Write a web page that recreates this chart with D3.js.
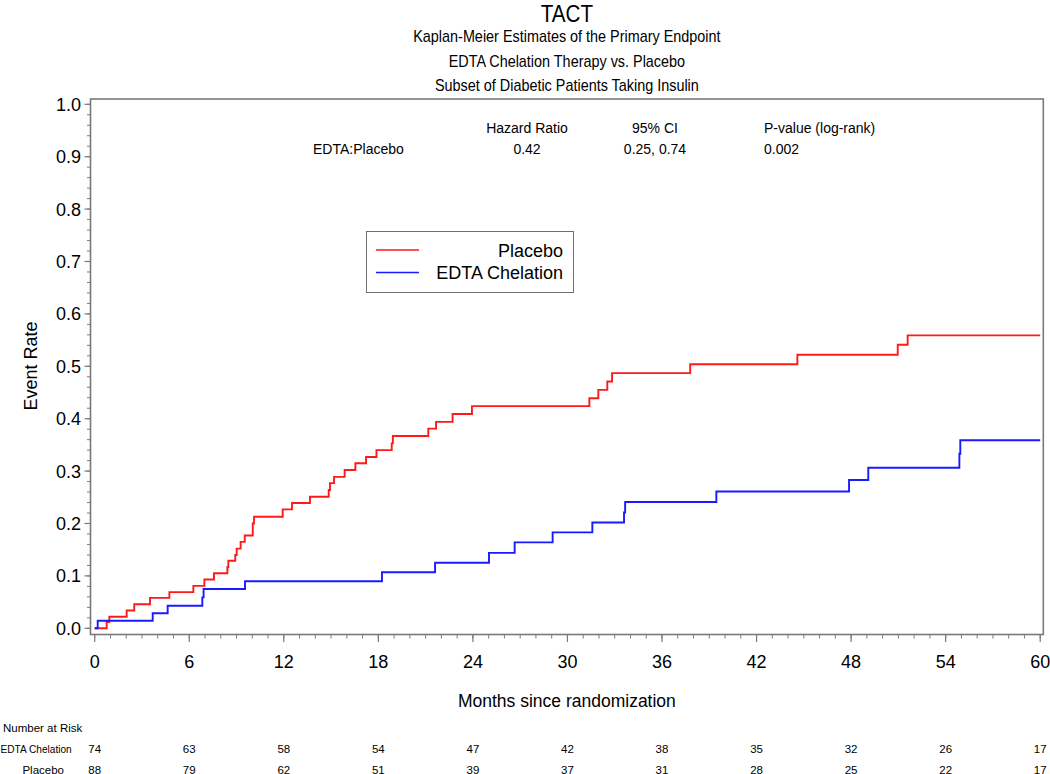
<!DOCTYPE html>
<html>
<head>
<meta charset="utf-8">
<script src="https://cdn.jsdelivr.net/npm/d3@7/dist/d3.min.js"></script>
<style>
  html, body { margin: 0; padding: 0; background: #fff; }
  svg { display: block; font-family: "Liberation Sans", Arial, sans-serif; }
</style>
</head>
<body>
<svg id="chart" width="1050" height="774"></svg>
<script>
// ---- Data ----
const titleText = "TACT";
const subtitles = [
  "Kaplan-Meier Estimates of the Primary Endpoint",
  "EDTA Chelation Therapy vs. Placebo",
  "Subset of Diabetic Patients Taking Insulin"
];
const seriesNames = ["Placebo", "EDTA Chelation"];
const seriesColors = ["#ff1a1a", "#1a1aff"];

// Placebo step curve: [month, event rate]
const placeboSteps = [
  [0, 0], [0.76, 0.012], [0.93, 0.022], [2.03, 0.034], [2.51, 0.046],
  [3.51, 0.058], [4.74, 0.069], [6.26, 0.081], [6.96, 0.093], [7.57, 0.105],
  [8.42, 0.117], [8.48, 0.129], [8.92, 0.140], [9.01, 0.152], [9.26, 0.165],
  [9.52, 0.177], [10.03, 0.200], [10.11, 0.213], [11.93, 0.227], [12.52, 0.239],
  [13.66, 0.251], [14.85, 0.264], [14.93, 0.277], [15.19, 0.289], [15.86, 0.302],
  [16.54, 0.315], [17.22, 0.327], [17.88, 0.340], [18.85, 0.353], [18.92, 0.367],
  [21.17, 0.381], [21.66, 0.394], [22.71, 0.409], [23.94, 0.424], [31.39, 0.439],
  [31.96, 0.455], [32.53, 0.471], [32.83, 0.487], [37.79, 0.504], [44.59, 0.522],
  [50.96, 0.541], [51.59, 0.559], [60, 0.559]
];
// EDTA Chelation step curve: [month, event rate]
const edtaSteps = [
  [0, 0], [0.19, 0.0145], [3.68, 0.0286], [4.63, 0.043], [6.83, 0.059],
  [6.91, 0.075], [9.54, 0.0897], [18.23, 0.107], [21.6, 0.125], [25.02, 0.144],
  [26.65, 0.164], [29.06, 0.183], [31.58, 0.202], [33.59, 0.221], [33.66, 0.241],
  [39.45, 0.261], [47.87, 0.283], [49.09, 0.3065], [54.87, 0.333], [54.93, 0.359],
  [60, 0.359]
];

const xTicks = [0, 6, 12, 18, 24, 30, 36, 42, 48, 54, 60];
const yTicks = [0, 0.1, 0.2, 0.3, 0.4, 0.5, 0.6, 0.7, 0.8, 0.9, 1.0];

const riskTimes = [0, 6, 12, 18, 24, 30, 36, 42, 48, 54, 60];
const riskEdta = [74, 63, 58, 54, 47, 42, 38, 35, 32, 26, 17];
const riskPlacebo = [88, 79, 62, 51, 39, 37, 31, 28, 25, 22, 17];

const hrHeaders = ["Hazard Ratio", "95% CI", "P-value (log-rank)"];
const hrRow = ["EDTA:Placebo", "0.42", "0.25, 0.74", "0.002"];

// ---- Layout ----
const svg = d3.select("#chart");
const frame = { left: 90.5, right: 1043.3, top: 99, bottom: 634.5 };
const x = d3.scaleLinear().domain([0, 60]).range([94.7, 1040.2]);
const y = d3.scaleLinear().domain([0, 1]).range([628.3, 104.3]);
const frameColor = "#7a7a7a";

// Titles (slightly condensed like the original)
const cx = (frame.left + frame.right) / 2;
svg.append("text").attr("transform", `translate(${cx},22) scale(0.86,1)`)
  .attr("text-anchor", "middle").attr("font-size", 24).text(titleText);
subtitles.forEach((s, i) => {
  svg.append("text").attr("transform", `translate(${cx},${42 + i * 24.5}) scale(0.9,1)`)
    .attr("text-anchor", "middle").attr("font-size", 16).text(s);
});

// Frame
svg.append("rect").attr("x", frame.left).attr("y", frame.top)
  .attr("width", frame.right - frame.left).attr("height", frame.bottom - frame.top)
  .attr("fill", "none").attr("stroke", frameColor).attr("stroke-width", 1.6);

// Y axis
const yMinor = d3.range(0, 1.0001, 0.02);
const yAxisG = svg.append("g").attr("transform", `translate(${frame.left},0)`);
yAxisG.selectAll("line.minor").data(yMinor).join("line")
  .attr("x1", -3.5).attr("x2", 0).attr("y1", d => y(d)).attr("y2", d => y(d))
  .attr("stroke", frameColor).attr("stroke-width", 1);
yAxisG.selectAll("line.major").data(yTicks).join("line")
  .attr("x1", -6).attr("x2", 0).attr("y1", d => y(d)).attr("y2", d => y(d))
  .attr("stroke", frameColor).attr("stroke-width", 1.2);
yAxisG.selectAll("text").data(yTicks).join("text")
  .attr("x", -9.5).attr("y", d => y(d) + 6.5).attr("text-anchor", "end")
  .attr("font-size", 18).text(d3.format(".1f"));

// X axis
const xMinor = d3.range(0, 60.001, 1);
const xAxisG = svg.append("g").attr("transform", `translate(0,${frame.bottom})`);
xAxisG.selectAll("line.minor").data(xMinor).join("line")
  .attr("x1", d => x(d)).attr("x2", d => x(d)).attr("y1", 0).attr("y2", 4)
  .attr("stroke", frameColor).attr("stroke-width", 1);
xAxisG.selectAll("line.major").data(xTicks).join("line")
  .attr("x1", d => x(d)).attr("x2", d => x(d)).attr("y1", 0).attr("y2", 7.5)
  .attr("stroke", frameColor).attr("stroke-width", 1.2);
xAxisG.selectAll("text").data(xTicks).join("text")
  .attr("x", d => x(d)).attr("y", 33).attr("text-anchor", "middle")
  .attr("font-size", 18).text(d => d);

// Axis labels
svg.append("text").attr("transform", `translate(37,366) rotate(-90)`)
  .attr("text-anchor", "middle").attr("font-size", 18).text("Event Rate");
svg.append("text").attr("x", cx).attr("y", 707).attr("text-anchor", "middle")
  .attr("font-size", 17.5).text("Months since randomization");

// Curves
const line = d3.line().x(d => x(d[0])).y(d => y(d[1])).curve(d3.curveStepAfter);
[[placeboSteps, seriesColors[0]], [edtaSteps, seriesColors[1]]].forEach(([data, col]) => {
  svg.append("path").datum(data).attr("d", line)
    .attr("fill", "none").attr("stroke", col).attr("stroke-width", 1.9);
});

// Hazard ratio table
const hrG = svg.append("g").attr("font-size", 14);
hrG.append("text").attr("x", 527).attr("y", 133).attr("text-anchor", "middle").text(hrHeaders[0]);
hrG.append("text").attr("x", 655).attr("y", 133).attr("text-anchor", "middle").text(hrHeaders[1]);
hrG.append("text").attr("x", 764).attr("y", 133).attr("text-anchor", "start").text(hrHeaders[2]);
hrG.append("text").attr("x", 313).attr("y", 154).attr("text-anchor", "start").text(hrRow[0]);
hrG.append("text").attr("x", 527).attr("y", 154).attr("text-anchor", "middle").text(hrRow[1]);
hrG.append("text").attr("x", 655).attr("y", 154).attr("text-anchor", "middle").text(hrRow[2]);
hrG.append("text").attr("x", 764).attr("y", 154).attr("text-anchor", "start").text(hrRow[3]);

// Legend
const lg = svg.append("g");
lg.append("rect").attr("x", 366.5).attr("y", 231.5).attr("width", 207).attr("height", 61)
  .attr("fill", "#fff").attr("stroke", "#6f6f6f").attr("stroke-width", 1);
seriesNames.forEach((name, i) => {
  const ly = 250 + i * 22.5;
  lg.append("line").attr("x1", 376).attr("x2", 419).attr("y1", ly).attr("y2", ly)
    .attr("stroke", seriesColors[i]).attr("stroke-width", 1.5);
  lg.append("text").attr("x", 563).attr("y", ly + 6.5).attr("text-anchor", "end")
    .attr("font-size", 18).text(name);
});

// Number at risk
const nr = svg.append("g").attr("font-size", 11.5);
nr.append("text").attr("x", 3).attr("y", 732).text("Number at Risk");
nr.append("text").attr("transform", "translate(0.5,753) scale(0.88,1)").text("EDTA Chelation");
nr.append("text").attr("x", 64).attr("y", 773.5).attr("text-anchor", "end").text("Placebo");
nr.selectAll("text.e").data(riskEdta).join("text").attr("class", "e")
  .attr("x", (d, i) => x(riskTimes[i])).attr("y", 753).attr("text-anchor", "middle").text(d => d);
nr.selectAll("text.p").data(riskPlacebo).join("text").attr("class", "p")
  .attr("x", (d, i) => x(riskTimes[i])).attr("y", 773.5).attr("text-anchor", "middle").text(d => d);
</script>
</body>
</html>
